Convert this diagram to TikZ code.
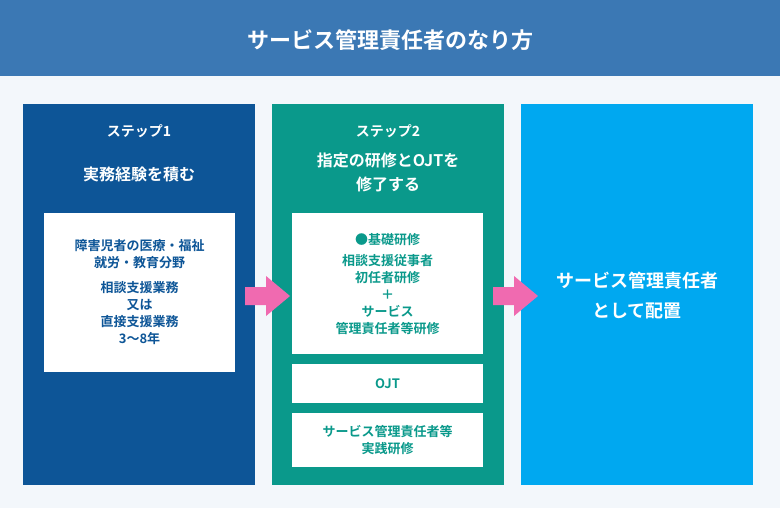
\documentclass[tikz,border=0pt]{standalone}
\usepackage{fontspec}
\setmainfont{Noto Sans CJK JP}[BoldFont={Noto Sans CJK JP Bold}]
\begin{document}
\begin{tikzpicture}[x=1pt,y=-1pt,
 col/.style={draw=none,anchor=north west,inner sep=0},
 wbox/.style={fill=white,draw=none,anchor=north west,inner sep=0},
 t/.style={align=center,font=\bfseries\fontsize{13}{17}\selectfont},
 arr/.style={fill=arrowpink,draw=none}]
\definecolor{bg}{HTML}{F3F7FB}
\definecolor{hdr}{HTML}{3B78B4}
\definecolor{c1}{HTML}{0D5597}
\definecolor{c2}{HTML}{0A998B}
\definecolor{c3}{HTML}{00A8F0}
\definecolor{arrowpink}{HTML}{F06AB0}
\fill[bg] (0,0) rectangle (780,508);
\useasboundingbox (0,0) rectangle (780,508);
\fill[hdr] (0,0) rectangle (780,76);
\node[font=\bfseries\fontsize{22}{26}\selectfont,text=white] (title) at (390,40) {サービス管理責任者のなり方};
\node[col,fill=c1,minimum width=232,minimum height=381] (s1) at (23,104) {};
\node[col,fill=c2,minimum width=232,minimum height=381] (s2) at (272,104) {};
\node[col,fill=c3,minimum width=232,minimum height=381] (s3) at (521,104) {};
\node[t,text=white,font=\bfseries\fontsize{14}{18}\selectfont] (l1) at (139,131) {ステップ1};
\node[t,text=white,font=\bfseries\fontsize{16}{20}\selectfont] (h1) at (139,174) {実務経験を積む};
\node[wbox,minimum width=191,minimum height=159] (b1) at (44,213) {};
\node[t,text=c1] (b1t) at (139.5,292) {障害児者の医療・福祉\\就労・教育分野\\[8pt]相談支援業務\\又は\\直接支援業務\\3〜8年};
\node[t,text=white,font=\bfseries\fontsize{14}{18}\selectfont] (l2) at (388,131) {ステップ2};
\node[t,text=white,font=\bfseries\fontsize{16}{24}\selectfont] (h2) at (388,172) {指定の研修とOJTを\\修了する};
\node[wbox,minimum width=191,minimum height=141] (b2) at (292,213) {};
\node[t,text=c2] (b2t) at (387.5,284) {●基礎研修\\[4pt]相談支援従事者\\初任者研修\\＋\\サービス\\管理責任者等研修};
\node[wbox,minimum width=191,minimum height=39] (b3) at (292,364) {};
\node[t,text=c2] (b3t) at (387.5,383.5) {OJT};
\node[wbox,minimum width=191,minimum height=54] (b4) at (292,413) {};
\node[t,text=c2] (b4t) at (387.5,440) {サービス管理責任者等\\実践研修};
\node[t,text=white,font=\bfseries\fontsize{18}{30}\selectfont] (h3) at (637,296) {サービス管理責任者\\として配置};
\fill[arr] (245,287) -- (266,287) -- (266,276) -- (290,296) -- (266,316) -- (266,305) -- (245,305) -- cycle;
\fill[arr] (493,287) -- (514,287) -- (514,276) -- (538,296) -- (514,316) -- (514,305) -- (493,305) -- cycle;
\end{tikzpicture}
\end{document}
